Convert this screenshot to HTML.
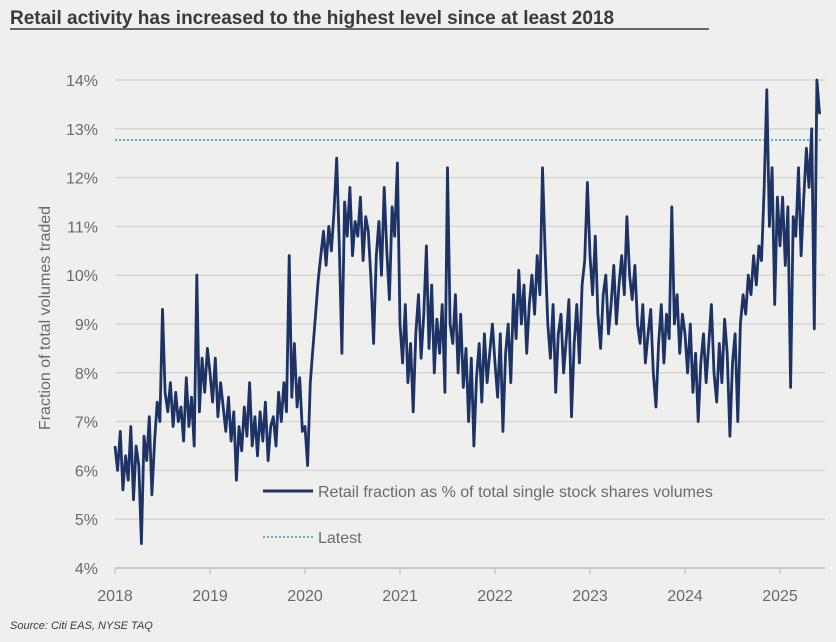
<!DOCTYPE html>
<html><head><meta charset="utf-8"><style>
body{margin:0;background:#efefed;}
svg{display:block;font-family:"Liberation Sans",sans-serif;}
</style></head><body>
<svg id="chart" width="836" height="642" viewBox="0 0 836 642">
<rect width="836" height="642" fill="#efefed"/>
<text x="10" y="24" font-size="19" font-weight="bold" fill="#3a3a3a">Retail activity has increased to the highest level since at least 2018</text>
<line x1="10" y1="29" x2="709" y2="29" stroke="#3a3a3a" stroke-width="1.5"/>
<g id="grid"></g><g id="yticks"></g><g id="xticks"></g>
<line id="latest" stroke="#4fb8b8" stroke-width="2" stroke-dasharray="2,2"/>
<path id="series" fill="none" stroke="#1d3366" stroke-width="2.8" stroke-linejoin="round"/>
<text transform="translate(50,318) rotate(-90)" text-anchor="middle" font-size="16" fill="#6a6a6a">Fraction of total volumes traded</text>
<g>
<line x1="263" y1="491" x2="313" y2="491" stroke="#1d3366" stroke-width="3"/>
<text x="318" y="497" font-size="16" fill="#6a6a6a">Retail fraction as % of total single stock shares volumes</text>
<line x1="263" y1="537" x2="313" y2="537" stroke="#4fb8b8" stroke-width="2" stroke-dasharray="2,2"/>
<text x="318" y="543" font-size="16" fill="#6a6a6a">Latest</text>
</g>
<text x="10" y="629" font-size="11" font-style="italic" fill="#3a3a3a">Source: Citi EAS, NYSE TAQ</text>
</svg>
<script>
const yTicks=[4,5,6,7,8,9,10,11,12,13,14];
const xYears=[2018,2019,2020,2021,2022,2023,2024,2025];
const latestValue=12.77;
const startYear=2018;
const stepsPerYear=36;
const v2018=[6.5,6.0,6.8,5.6,6.3,5.8,6.9,5.4,6.5,6.1,4.5,6.7,6.2,7.1,5.5,6.6,7.4,7.0,9.3,7.6,7.2,7.8,6.9,7.6,7.0,7.3,6.6,7.9,6.9,7.5,6.5,10.0,7.2,8.3,7.6,8.5];
const v2019=[8.0,7.4,8.3,7.1,7.8,7.3,6.8,7.5,6.6,7.2,5.8,6.9,6.4,7.3,6.7,7.8,6.5,7.1,6.3,7.2,6.6,7.4,6.2,6.9,7.1,6.5,7.6,7.0,7.8,7.2,10.4,7.5,8.6,7.3,7.9,6.8];
const v2020=[6.9,6.1,7.8,8.5,9.2,9.9,10.4,10.9,10.2,11.0,10.5,11.3,12.4,10.6,8.4,11.5,10.8,11.8,10.4,11.1,10.8,11.6,10.3,11.2,10.9,9.9,8.6,10.4,11.1,10.0,11.8,10.5,9.5,11.4,10.8,12.3];
const v2021=[9.0,8.2,9.4,7.8,8.6,7.2,8.8,9.6,8.3,9.2,10.6,8.5,9.8,8.0,9.1,8.4,9.4,7.6,12.2,9.0,8.6,9.6,8.0,9.2,7.7,8.5,7.0,8.3,6.5,7.9,8.6,7.4,8.8,7.8,8.4,9.0];
const v2022=[8.2,7.5,8.8,6.8,8.4,9.0,7.8,9.6,8.7,10.1,9.0,9.8,8.4,9.4,10.0,9.2,10.4,9.6,12.2,10.5,9.0,8.3,9.4,7.6,8.8,9.2,8.0,8.7,9.5,7.1,8.6,9.4,8.2,9.8,10.3,11.9];
const v2023=[10.4,9.6,10.8,9.2,8.5,9.6,10.0,8.8,9.4,10.2,9.0,9.8,10.4,9.6,11.2,10.0,9.5,10.2,9.0,8.6,9.4,8.2,8.8,9.3,8.0,7.3,8.6,9.4,8.2,9.2,8.7,11.4,9.0,9.6,8.4,9.2];
const v2024=[8.8,8.0,9.0,7.6,8.4,7.0,8.2,8.8,7.8,8.6,9.4,8.0,7.4,8.6,7.8,9.1,8.4,6.7,8.2,8.8,7.0,9.0,9.6,9.2,10.0,9.6,10.4,9.8,10.6,10.3,11.8,13.8,11.0,12.2,9.4,11.6];
const v2025=[10.6,11.6,10.2,11.4,7.7,11.2,10.8,12.2,10.4,11.6,12.6,11.8,13.0,8.9,14.0,13.3];
const values=[].concat(v2018,v2019,v2020,v2021,v2022,v2023,v2024,v2025);

const NS="http://www.w3.org/2000/svg";
function xs(t){return 115+(t-2018)*95;}
function ys(v){return 568-(v-4)*48.8;}
function mk(tag,attrs,parent){const e=document.createElementNS(NS,tag);for(const k in attrs)e.setAttribute(k,attrs[k]);parent.appendChild(e);return e;}
const grid=document.getElementById('grid'),yt=document.getElementById('yticks'),xt=document.getElementById('xticks');
yTicks.forEach(v=>{
  const l=mk('line',{x1:115,x2:825,y1:ys(v),y2:ys(v),stroke:v===4?'#c8c8c8':'#d6d6d4','stroke-width':v===4?2:1.5},grid);
  
  
  const t=mk('text',{x:98,y:ys(v)+6,'text-anchor':'end','font-size':16,fill:'#6a6a6a'},yt);
  t.textContent=v+'%';
  
  
});
xYears.forEach(y=>{
  const l=mk('line',{x1:xs(y),x2:xs(y),y1:568,y2:574,stroke:'#c8c8c8','stroke-width':1.5},xt);
  
  
  const t=mk('text',{x:xs(y),y:601,'text-anchor':'middle','font-size':16,fill:'#6a6a6a'},xt);
  t.textContent=y;
  
  
});
const lat=document.getElementById('latest');
lat.setAttribute('x1',115);lat.setAttribute('x2',822);
lat.setAttribute('y1',ys(latestValue));lat.setAttribute('y2',ys(latestValue));
let d='';
values.forEach((v,i)=>{const t=startYear+i/stepsPerYear;d+=(i?'L':'M')+xs(t).toFixed(1)+','+ys(v).toFixed(1);});
document.getElementById('series').setAttribute('d',d);
</script>
</body></html>
